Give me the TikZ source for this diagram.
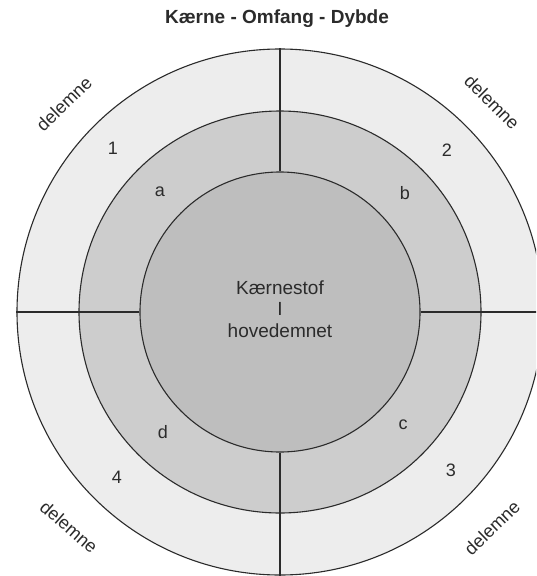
\documentclass[tikz,border=0pt]{standalone}
\usepackage{fontspec}
\setmainfont{Liberation Sans}
\definecolor{ringout}{HTML}{EDEDED}
\definecolor{ringmid}{HTML}{CDCDCD}
\definecolor{ringcore}{HTML}{BEBEBE}
\definecolor{ink}{HTML}{2B2B2B}
\begin{document}
\begin{tikzpicture}[x=1pt,y=-1pt,
    ring/.style={circle,draw=ink,line width=1.1pt,inner sep=0pt},
    divider/.style={draw=ink,line width=1.1pt},
    lbl/.style={text=ink,font=\fontsize{18}{20}\selectfont,inner sep=0pt},
    side/.style={text=ink,font=\fontsize{18}{20}\selectfont,inner sep=0pt}]
  \useasboundingbox (0,0) rectangle (536,576);
  \clip (0,0) rectangle (536,576);
  \fill[white] (0,0) rectangle (536,576);
  \coordinate (c) at (280,312);
  % three concentric rings
  \node[ring,fill=ringout,minimum size=526pt] (outer) at (c) {};
  \node[ring,fill=ringmid,minimum size=402pt] (mid) at (c) {};
  \node[ring,fill=ringcore,minimum size=280pt] (core) at (c) {};
  % dividers between the four sectors
  \draw[divider] (core.90.4) -- (outer.90.4);
  \draw[divider] (core.180.4) -- (outer.180.4);
  \draw[divider] (core.270.4) -- (outer.270.4);
  \draw[divider] (core.0.4) -- (outer.0.4);
  % title
  \node[text=ink,font=\fontsize{19}{21}\selectfont\bfseries,inner sep=0pt] (title) at (277,19) {Kærne - Omfang - Dybde};
  % core text
  \node[text=ink,font=\fontsize{19}{21.5}\selectfont,align=center,inner sep=0pt] (kerne) at (280,309) {Kærnestof\\I\\hovedemnet};
  % sector numbers and letters
  \node[lbl] (n1) at (113,148) {1};
  \node[lbl] (n2) at (447,150) {2};
  \node[lbl] (n3) at (451,470) {3};
  \node[lbl] (n4) at (117,477) {4};
  \node[lbl] (la) at (160,192) {a};
  \node[lbl] (lb) at (405,193) {b};
  \node[lbl] (lc) at (403,425) {c};
  \node[lbl] (ld) at (163,432) {d};
  % outer labels
  \node[side,rotate=44] (d1) at (64,104) {delemne};
  \node[side,rotate=-45] (d2) at (492,102) {delemne};
  \node[side,rotate=-41] (d4) at (69,527) {delemne};
  \node[side,rotate=44] (d3) at (492,528) {delemne};
\end{tikzpicture}
\end{document}
